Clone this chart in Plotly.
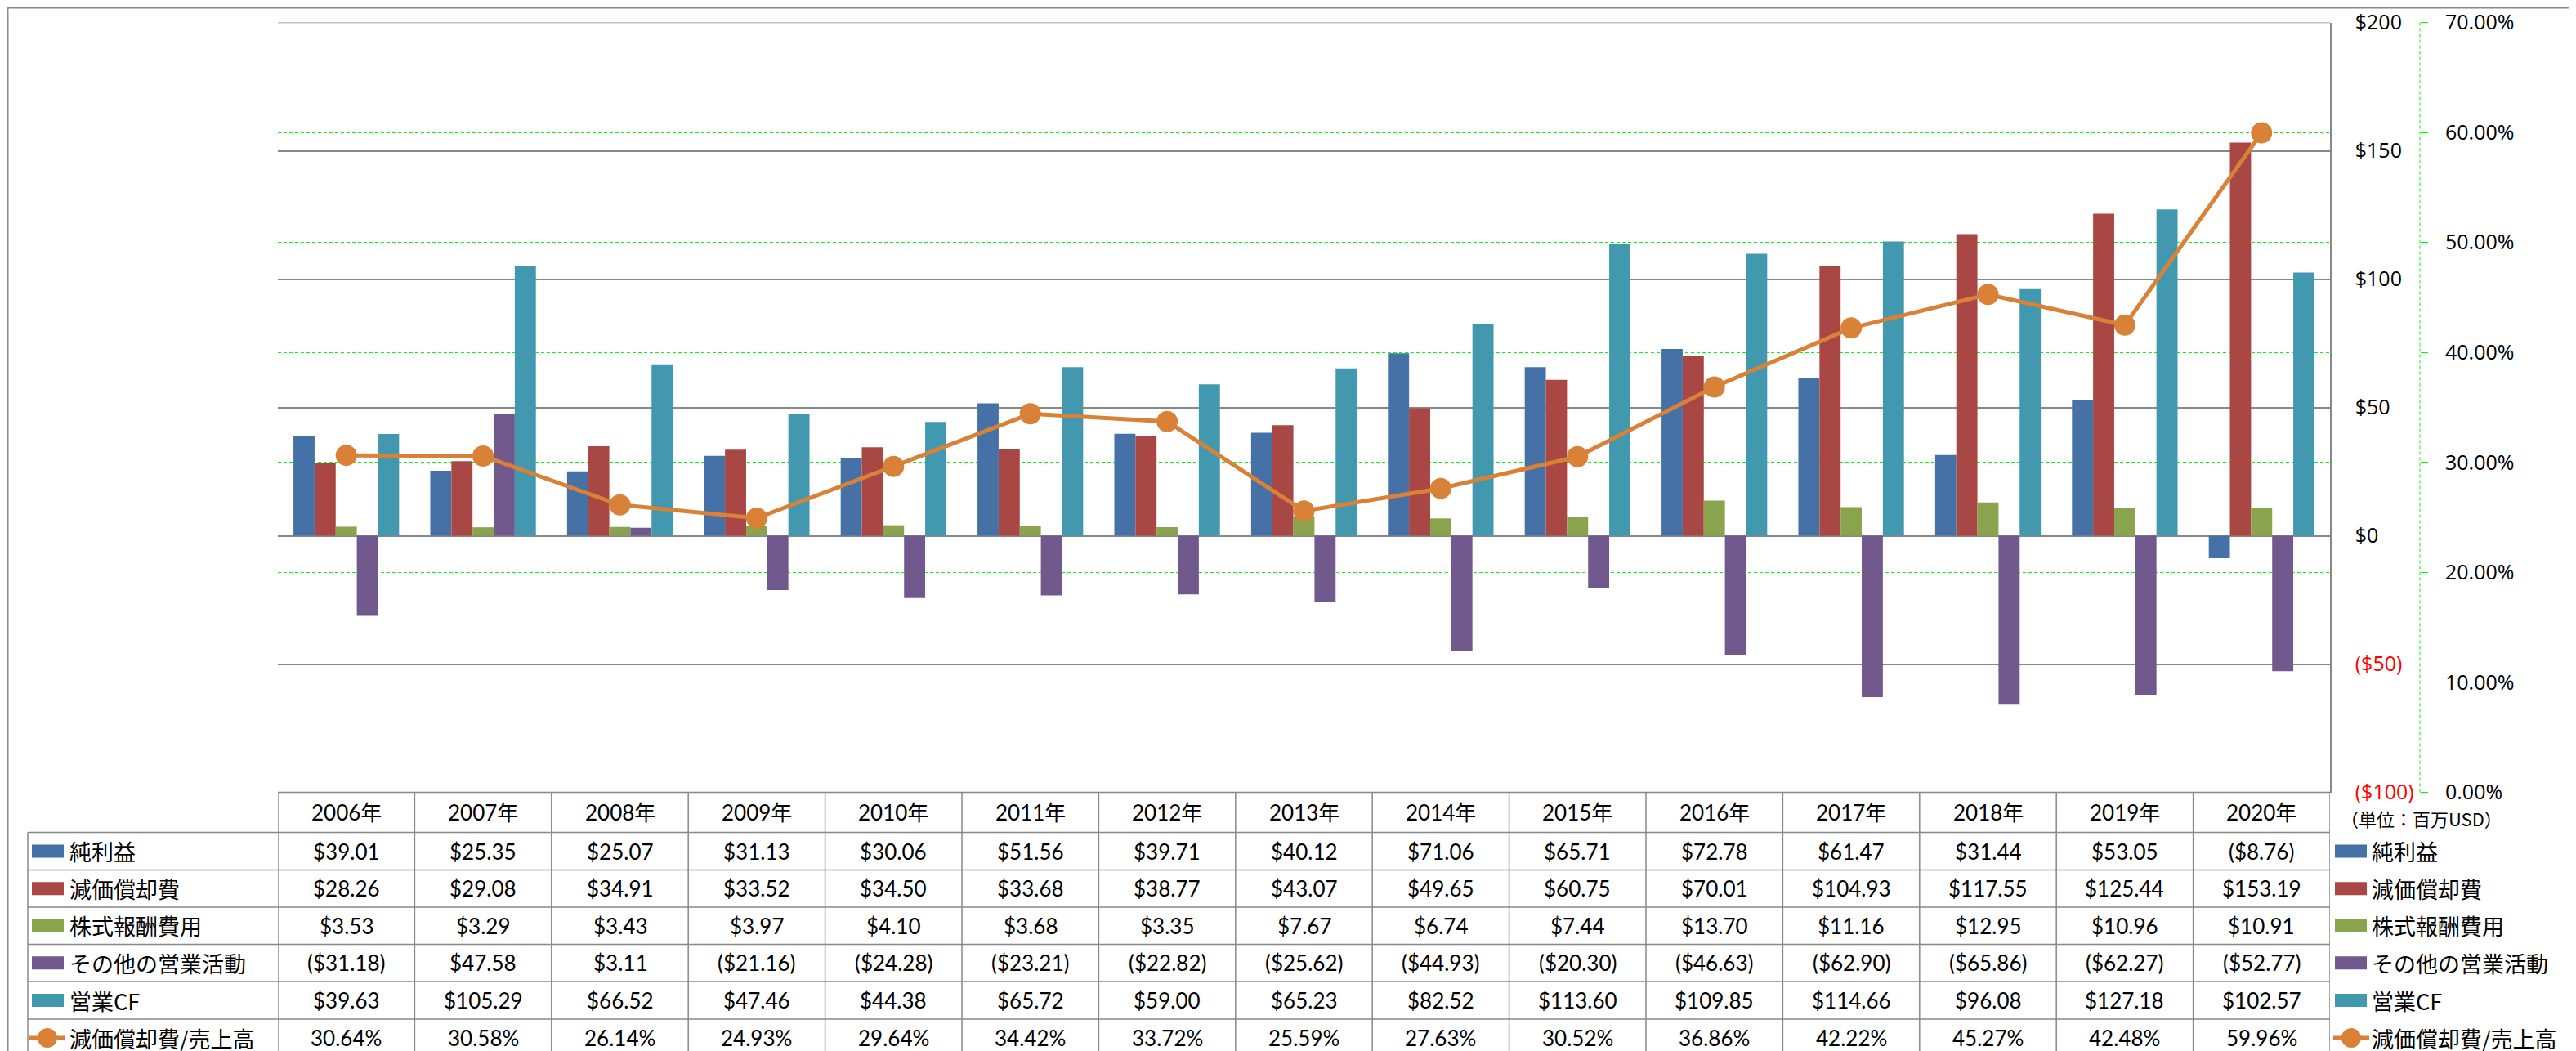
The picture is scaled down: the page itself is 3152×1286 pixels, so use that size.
import plotly.graph_objects as go

# ---------------- data ----------------
years = ["2006年", "2007年", "2008年", "2009年", "2010年", "2011年", "2012年", "2013年",
         "2014年", "2015年", "2016年", "2017年", "2018年", "2019年", "2020年"]
net_income = [39.01, 25.35, 25.07, 31.13, 30.06, 51.56, 39.71, 40.12, 71.06, 65.71,
              72.78, 61.47, 31.44, 53.05, -8.76]
depreciation = [28.26, 29.08, 34.91, 33.52, 34.50, 33.68, 38.77, 43.07, 49.65, 60.75,
                70.01, 104.93, 117.55, 125.44, 153.19]
stock_comp = [3.53, 3.29, 3.43, 3.97, 4.10, 3.68, 3.35, 7.67, 6.74, 7.44,
              13.70, 11.16, 12.95, 10.96, 10.91]
other_ops = [-31.18, 47.58, 3.11, -21.16, -24.28, -23.21, -22.82, -25.62, -44.93, -20.30,
             -46.63, -62.90, -65.86, -62.27, -52.77]
op_cf = [39.63, 105.29, 66.52, 47.46, 44.38, 65.72, 59.00, 65.23, 82.52, 113.60,
         109.85, 114.66, 96.08, 127.18, 102.57]
dep_ratio = [30.64, 30.58, 26.14, 24.93, 29.64, 34.42, 33.72, 25.59, 27.63, 30.52,
             36.86, 42.22, 45.27, 42.48, 59.96]

bar_names = ["純利益", "減価償却費", "株式報酬費用", "その他の営業活動", "営業CF"]
line_name = "減価償却費/売上高"
usd_ticks = [-100, -50, 0, 50, 100, 150, 200]
usd_ticktext = ["<span style='color:#FF0000'>($100)</span>",
                "<span style='color:#FF0000'>($50)</span>",
                "$0", "$50", "$100", "$150", "$200"]
pct_ticks = [0, 0.1, 0.2, 0.3, 0.4, 0.5, 0.6, 0.7]
pct_grid = [0.1, 0.2, 0.3, 0.4, 0.5, 0.6]
unit_label = "（単位：百万USD）"

# ---------------- styling ----------------
bar_colors = ["#4571A6", "#A94744", "#89A44D", "#71598E", "#4298AF"]
orange = "#DA8138"
gray = "#888888"
green = "#00FF00"

W, H = 3152, 1286
PL, PR = 332, 2843          # plot area left / right (px)
PT, PB = 19.5, 961.5        # plot area top / bottom (px)
row_lines = [1010.5, 1056.5, 1102, 1147.5, 1193, 1239, 1285]
row_centers = [(row_lines[i] + row_lines[i + 1]) / 2 for i in range(6)]
header_center = (PB + row_lines[0]) / 2

def px(x):
    return x / W

def py(y):
    return 1 - y / H

jp_font = "Noto Sans CJK JP"
num_font = "Lato, Noto Sans CJK JP"
axis_font = "Open Sans, Noto Sans CJK JP"

fig = go.Figure()
for name, vals, col in zip(bar_names, [net_income, depreciation, stock_comp, other_ops, op_cf], bar_colors):
    fig.add_trace(go.Bar(x=years, y=vals, name=name, marker=dict(color=col, line=dict(width=0)),
                         yaxis="y", showlegend=False))
fig.add_trace(go.Scatter(x=years, y=[r / 100 for r in dep_ratio], name=line_name, yaxis="y2",
                         mode="lines+markers", line=dict(color=orange, width=5),
                         marker=dict(size=26, color=orange), showlegend=False))

# ---------------- table text ----------------
def fmt_usd(v):
    return f"${v:,.2f}" if v >= 0 else f"(${-v:,.2f})"

rows = [[fmt_usd(v) for v in net_income],
        [fmt_usd(v) for v in depreciation],
        [fmt_usd(v) for v in stock_comp],
        [fmt_usd(v) for v in other_ops],
        [fmt_usd(v) for v in op_cf],
        [f"{v:.2f}%" for v in dep_ratio]]
row_labels = bar_names + [line_name]

annotations = []
for i, yr in enumerate(years):
    annotations.append(dict(x=yr, xref="x", y=py(header_center), yref="paper", text=yr,
                            showarrow=False, xanchor="center", yanchor="middle",
                            font=dict(family=num_font, size=26, color="#000000")))
    for r in range(6):
        annotations.append(dict(x=yr, xref="x", y=py(row_centers[r]), yref="paper", text=rows[r][i],
                                showarrow=False, xanchor="center", yanchor="middle",
                                font=dict(family=num_font, size=26, color="#000000")))
for r in range(6):
    for xl in (75, 2892):
        annotations.append(dict(x=px(xl), xref="paper", y=py(row_centers[r]), yref="paper",
                                text=row_labels[r], showarrow=False, xanchor="left", yanchor="middle",
                                font=dict(family=jp_font, size=27, color="#000000")))
annotations.append(dict(x=px(2955), xref="paper", y=py(993), yref="paper", text=unit_label,
                        showarrow=False, xanchor="center", yanchor="middle",
                        font=dict(family=jp_font, size=22, color="#000000")))

# ---------------- table lines & legend swatches ----------------
shapes = []
line_style = dict(color=gray, width=1.5)
# top gridline of the dollar axis (range edge)
shapes.append(dict(type="line", xref="paper", yref="y", x0=px(PL), x1=px(PR),
                   y0=max(usd_ticks), y1=max(usd_ticks), line=line_style))
shapes.append(dict(type="line", xref="paper", yref="paper", x0=px(PL), x1=px(PR),
                   y0=py(PB), y1=py(PB), line=line_style))
for yl in row_lines[:-1]:
    shapes.append(dict(type="line", xref="paper", yref="paper", x0=px(26), x1=px(PR),
                       y0=py(yl), y1=py(yl), line=line_style))
for i in range(len(years) + 1):
    shapes.append(dict(type="line", xref="x", yref="paper", x0=i - 0.5, x1=i - 0.5,
                       y0=0, y1=py(PB), line=line_style))
shapes.append(dict(type="line", xref="paper", yref="paper", x0=px(26), x1=px(26),
                   y0=0, y1=py(row_lines[0]), line=line_style))
shapes.append(dict(type="line", xref="paper", yref="paper", x0=px(2953), x1=px(2953),
                   y0=py(PB), y1=py(PT), line=dict(color=green, width=1, dash="4px,3px")))
for r in range(5):
    for x0 in (31, 2849):
        shapes.append(dict(type="rect", xref="paper", yref="paper", x0=px(x0), x1=px(x0 + 39),
                           y0=py(row_centers[r] - 8), y1=py(row_centers[r] + 8),
                           fillcolor=bar_colors[r], line=dict(width=0)))
for x0 in (28, 2847):
    cy = row_centers[5]
    shapes.append(dict(type="line", xref="paper", yref="paper", x0=px(x0), x1=px(x0 + 44),
                       y0=py(cy), y1=py(cy), line=dict(color=orange, width=5)))
    shapes.append(dict(type="circle", xref="paper", yref="paper", x0=px(x0 + 10), x1=px(x0 + 34),
                       y0=py(cy + 12), y1=py(cy - 12), fillcolor=orange, line=dict(width=0)))
shapes.append(dict(type="rect", xref="paper", yref="paper", x0=px(1), x1=px(W - 1),
                   y0=py(H - 1), y1=py(1), line=dict(color=gray, width=3)))

fig.update_layout(
    width=W, height=H,
    margin=dict(l=0, r=0, t=0, b=0, autoexpand=False),
    paper_bgcolor="#FFFFFF", plot_bgcolor="#FFFFFF",
    barmode="group", bargap=0.228, bargroupgap=0,
    xaxis=dict(domain=[px(PL), px(PR)], type="category", range=[-0.5, len(years) - 0.5],
               showticklabels=False, showgrid=False, zeroline=False, showline=False, ticks="",
               automargin=False),
    yaxis=dict(domain=[py(PB), py(PT)], range=[-100, 200], tickvals=usd_ticks, ticktext=usd_ticktext,
               side="right", showgrid=True, gridcolor=gray, gridwidth=1.5, zeroline=False,
               showline=True, linecolor=gray, linewidth=1.5, ticks="", ticklabelstandoff=24,
               automargin=False,
               tickfont=dict(family=axis_font, size=25, color="#000000")),
    yaxis2=dict(overlaying="y", side="right", anchor="free", position=px(2953),
                range=[0, 0.7], tickvals=pct_ticks, tickformat=".2%",
                showgrid=False, zeroline=False, showline=False,
                ticks="outside", ticklen=9, tickcolor=green, tickwidth=1,
                ticklabelstandoff=16, automargin=False,
                minor=dict(tickvals=pct_grid, showgrid=True, gridcolor=green, gridwidth=1,
                           griddash="4px,3px", ticks=""),
                tickfont=dict(family=axis_font, size=25, color="#000000")),
    annotations=annotations,
    shapes=shapes,
)

fig.write_html("out.html")
